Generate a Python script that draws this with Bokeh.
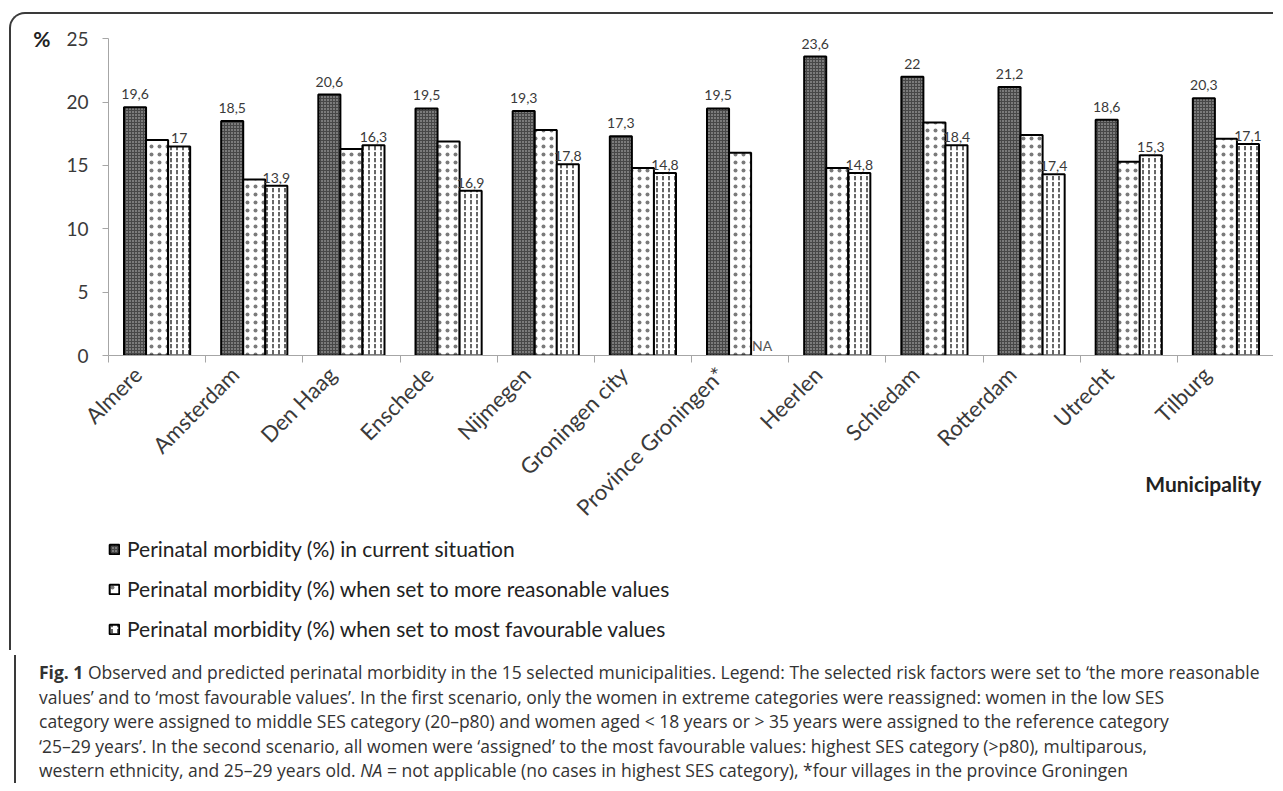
import math
import numpy as np
from bokeh.plotting import figure
from bokeh.models import (ColumnDataSource, Range1d, LinearAxis, FixedTicker, CDSView, IndexFilter,
                          Legend, LegendItem, Div, CustomJSTickFormatter)
from bokeh.transform import dodge
from bokeh.layouts import column
from bokeh.embed import file_html
from bokeh.resources import INLINE
from bokeh.core.properties import value

# ---------------- data ----------------
municipalities = ["Almere", "Amsterdam", "Den Haag", "Enschede", "Nijmegen", "Groningen city",
                  "Province Groningen*", "Heerlen", "Schiedam", "Rotterdam", "Utrecht", "Tilburg"]
current = [19.6, 18.5, 20.6, 19.5, 19.3, 17.3, 19.5, 23.6, 22.0, 21.2, 18.6, 20.3]
reasonable = [17.0, 13.9, 16.3, 16.9, 17.8, 14.8, 16.0, 14.8, 18.4, 17.4, 15.3, 17.1]
favourable = [16.5, 13.4, 16.6, 13.0, 15.1, 14.4, float("nan"), 14.4, 16.6, 14.3, 15.8, 16.7]
series_names = ["Perinatal morbidity (%) in current situation",
                "Perinatal morbidity (%) when set to more reasonable values",
                "Perinatal morbidity (%) when set to most favourable values"]
y_ticks = [0, 5, 10, 15, 20, 25]
y_unit = "%"
x_title = "Municipality"


def fmt(v):
    s = f"{v:.1f}"
    if s.endswith(".0"):
        s = s[:-2]
    return s.replace(".", ",")


FONT = "Lato"
TXT = "#3a3a3a"
BORDER = "2px solid #3a3a3a"
BW = 0.227          # bar width (category units)
SHIFT = 0.2         # rotated label shift
N = len(municipalities)
idx = list(range(N))

src = ColumnDataSource(dict(i=idx, m=municipalities, cur=current, rea=reasonable, fav=favourable,
                            lab1=[fmt(v) for v in current]))
ok = [i for i, v in enumerate(favourable) if not math.isnan(v)]
na = [i for i, v in enumerate(favourable) if math.isnan(v)]
src3 = ColumnDataSource(dict(i=ok, y=[favourable[i] for i in ok], lab=[fmt(reasonable[i]) for i in ok]))
srcna = ColumnDataSource(dict(i=na, y=[0 for _ in na], lab=["NA" for _ in na]))

bar_styles = [
    dict(fill_color="#474747", line_color="black", line_width=2,
         hatch_pattern="dot", hatch_color="#c8c8c8", hatch_scale=3, hatch_weight=1),
    dict(fill_color="white", line_color="black", line_width=2,
         hatch_pattern="dot", hatch_color="#7a7a7a", hatch_scale=8, hatch_weight=1),
    dict(fill_color="white", line_color="black", line_width=2,
         hatch_pattern="vertical_dash", hatch_color="#333333", hatch_scale=6, hatch_weight=1.5),
]
cols = ["cur", "rea", "fav"]
offs = [-BW, 0, BW]

p = figure(x_range=Range1d(-0.5, N - 0.5), y_range=Range1d(0, 26.6),
           frame_width=1164, frame_height=335, min_border_left=97, min_border_right=1,
           min_border_top=4, min_border_bottom=175, x_axis_location=None,
           output_backend="svg", toolbar_location=None)
p.border_fill_color = None
p.background_fill_color = None
p.outline_line_color = None
p.ygrid.visible = False
p.xgrid.visible = False

# y axis
ya = p.yaxis[0]
ya.ticker = FixedTicker(ticks=y_ticks)
ya.bounds = (0, 25)
ya.axis_line_color = "#a6a6a6"
ya.axis_line_width = 1
ya.major_tick_line_color = "#a6a6a6"
ya.major_tick_in = 0
ya.major_tick_out = 6
ya.minor_tick_line_color = None
ya.major_label_standoff = 14
ya.major_label_text_font = FONT
ya.major_label_text_font_size = "19px"
ya.major_label_text_color = TXT

# "%" unit as an outer axis label at the top tick
ua = LinearAxis(ticker=FixedTicker(ticks=[y_ticks[-1]]), major_label_overrides={y_ticks[-1]: y_unit})
ua.axis_line_color = None
ua.major_tick_line_color = None
ua.minor_tick_line_color = None
ua.major_label_standoff = 7
ua.major_label_text_font = FONT
ua.major_label_text_font_size = "21px"
ua.major_label_text_font_style = "bold"
ua.major_label_text_color = "#222222"
p.add_layout(ua, "left")

# x axis (helper range so the rotated labels sit like the original)
p.extra_x_ranges = {"lab": Range1d(-0.5 + SHIFT, N - 0.5 + SHIFT)}
xa = LinearAxis(x_range_name="lab",
                ticker=FixedTicker(ticks=idx, minor_ticks=[k - 0.5 + SHIFT for k in range(N + 1)]),
                formatter=CustomJSTickFormatter(args=dict(names=municipalities),
                                                code="return names[Math.round(tick)] || ''"))
xa.axis_line_color = "#a6a6a6"
xa.major_tick_line_color = None
xa.minor_tick_line_color = "#a6a6a6"
xa.minor_tick_in = 0
xa.minor_tick_out = 7
xa.major_label_orientation = math.pi / 4
xa.major_label_standoff = 8
xa.major_label_text_font = FONT
xa.major_label_text_font_size = "22px"
xa.major_label_text_color = TXT
# title at the right end of the axis (padded so its visible part ends near the frame edge)
xa.axis_label = x_title + "\u00a0" * 28
xa.axis_label_text_font = FONT
xa.axis_label_text_font_size = "21px"
xa.axis_label_text_font_style = "bold"
xa.axis_label_text_color = "#222222"
xa.axis_label_standoff = -62
if "axis_label_align" in xa.properties():
    xa.axis_label_align = "end"
p.add_layout(xa, "below")

# bars
bars = [p.vbar(x=dodge("i", o), top=c, width=BW, source=src, **st) for o, c, st in zip(offs, cols, bar_styles)]

# value labels
p.text(x=dodge("i", -BW), y="cur", text="lab1", source=src,
       text_align="center", text_baseline="alphabetic", y_offset=-13,
       text_font=value(FONT), text_font_size="14px", text_color=TXT)
p.text(x=dodge("i", BW), y="y", text="lab", source=src3,
       text_align="center", text_baseline="alphabetic", y_offset=-8,
       text_font=value(FONT), text_font_size="14px", text_color=TXT)
p.text(x=dodge("i", BW), y="y", text="lab", source=srcna,
       text_align="center", text_baseline="alphabetic", y_offset=-10,
       text_font=value(FONT), text_font_size="14px", text_color="#555555")

p.styles = {"border-top": BORDER, "border-left": BORDER, "border-top-left-radius": "16px"}

# ---------------- legend strip ----------------
# Each key glyph uses the series style; only the not-applicable row (no bar height) is passed,
# so nothing is drawn in the strip except the legend itself.
L = figure(x_range=Range1d(-0.5, N - 0.5), y_range=Range1d(0, 26.6), width=1262, height=122,
           min_border=0, x_axis_location=None, y_axis_location=None,
           output_backend="svg", toolbar_location=None)
L.border_fill_color = None
L.background_fill_color = None
L.outline_line_color = None
L.grid.visible = False
key_view = CDSView(filter=IndexFilter(indices=na))
lbars = [L.vbar(x=dodge("i", o), top="fav", width=BW, source=src, view=key_view, **st)
         for o, st in zip(offs, bar_styles)]
legend = Legend(items=[LegendItem(label=n, renderers=[r]) for n, r in zip(series_names, lbars)],
                location=(0, 9), orientation="vertical",
                glyph_width=12, glyph_height=12, label_height=22, spacing=15,
                label_standoff=7, padding=0, margin=0,
                border_line_color=None, background_fill_alpha=0,
                label_text_font=FONT, label_text_font_size="21px", label_text_color="#222222")
L.add_layout(legend, "center")
L.styles = {"border-left": BORDER}

caption_lines = [
    "<b>Fig. 1</b> Observed and predicted perinatal morbidity in the 15 selected municipalities. Legend: The selected risk factors were set to \u2018the more reasonable",
    "values\u2019 and to \u2018most favourable values\u2019. In the first scenario, only the women in extreme categories were reassigned: women in the low SES",
    "category were assigned to middle SES category (20\u2013p80) and women aged &lt; 18 years or &gt; 35 years were assigned to the reference category",
    "\u201825\u201329 years\u2019. In the second scenario, all women were \u2018assigned\u2019 to the most favourable values: highest SES category (&gt;p80), multiparous,",
    "western ethnicity, and 25\u201329 years old. <i>NA</i> = not applicable (no cases in highest SES category), *four villages in the province Groningen",
]
cap = Div(text="<div style='font-family:\"Open Sans\";font-size:17.5px;line-height:24.5px;color:#333;"
               "white-space:nowrap;padding-left:23px;padding-top:5px'>" + "<br>".join(caption_lines) + "</div>",
          width=1262, height=128)
cap.styles = {"border-left": BORDER}

layout = column(p, L, cap, margin=(12, 0, 0, 9))

open("out.html", "w").write(file_html(layout, INLINE))
